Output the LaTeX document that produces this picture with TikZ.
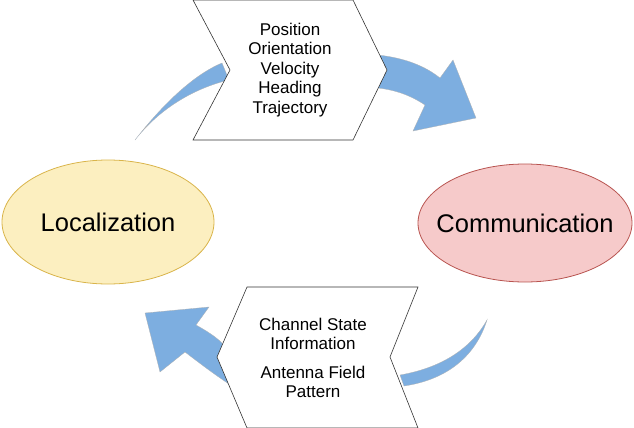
\documentclass[tikz,border=0pt]{standalone}
\usepackage{fontspec}
\setmainfont{Liberation Sans}
\usetikzlibrary{positioning, shapes.geometric}

\definecolor{locfill}{HTML}{FCEFC0}
\definecolor{locdraw}{HTML}{D9B44A}
\definecolor{comfill}{HTML}{F6CACA}
\definecolor{comdraw}{HTML}{B85450}
\definecolor{flowblue}{HTML}{7DAEE0}

\begin{document}
\begin{tikzpicture}[x=1pt, y=-1pt]

    \tikzset{
        state/.style = {line width=0.8pt},
        label/.style = {font=\fontsize{25.5}{30}\selectfont},
        chevron/.style = {draw=black!80, fill=white, line width=0.6pt},
        info/.style = {align=center, font=\fontsize{17}{19.5}\selectfont},
        flow/.style = {fill=flowblue, draw=gray!60, line width=0.3pt}
    }

    \useasboundingbox (0,0) rectangle (634,428);

    % blue flow arrows
    \path [flow] (135,140) .. controls (170,95) and (200,72) .. (222,63) -- (229,80) .. controls (195,88) and (160,108) .. (135,140) -- cycle;
    \path [flow] (378,55) .. controls (405,58) and (425,66) .. (440,78) -- (453,60) -- (476,118) -- (413,131) -- (425,105) .. controls (410,95) and (395,90) .. (378,88) -- cycle;
    \path [flow] (487,320) .. controls (470,350) and (440,368) .. (400,375) -- (404,386) .. controls (445,380) and (475,358) .. (487,320) -- cycle;
    \path [flow] (145,313) -- (209,307) -- (196,325) .. controls (205,330) and (215,336) .. (222,343) -- (232,386) .. controls (215,375) and (198,362) .. (185,352) -- (160,372) -- cycle;

    % chevrons
    \draw [chevron] (193,0) -- (353,0) -- (387,70) -- (353,140) -- (193,140) -- (230,70) -- cycle;
    \draw [chevron] (247,287) -- (418,287) -- (390,357) -- (418,428) -- (247,428) -- (217,357) -- cycle;

    % states
    \draw [state, fill=locfill, draw=locdraw] (108,222) ellipse [x radius=106, y radius=62];
    \draw [state, fill=comfill, draw=comdraw] (525,223) ellipse [x radius=107, y radius=59];
    \node (loc) [label] at (108,222) {Localization};
    \node (com) [label] at (525,223) {Communication};

    \node (motion) [info] at (290,70) {Position\\Orientation\\Velocity\\Heading\\Trajectory};
    \node (channel) [info] at (313,358) {Channel State\\Information\\[9pt]Antenna Field\\Pattern};

\end{tikzpicture}
\end{document}
